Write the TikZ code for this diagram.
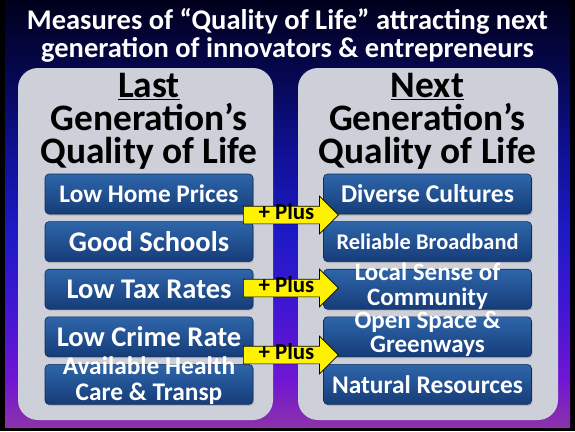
\documentclass[tikz,border=0pt]{standalone}
\usepackage{fontspec}
\setmainfont{Carlito}
\usetikzlibrary{positioning,shapes.arrows,shadows}
\definecolor{panelgray}{RGB}{205,208,216}
\definecolor{boxtop}{RGB}{46,102,170}
\definecolor{boxbot}{RGB}{22,60,120}
\definecolor{bgA}{RGB}{140,50,170}
\definecolor{bgB}{RGB}{112,22,210}
\definecolor{bgC}{RGB}{60,22,210}
\definecolor{bgD}{RGB}{28,26,196}
\definecolor{bgE}{RGB}{16,16,150}
\definecolor{bgF}{RGB}{6,8,82}
\definecolor{bgG}{RGB}{0,0,28}
\pgfdeclareverticalshading{slidebg}{100bp}{color(0bp)=(bgA); color(25bp)=(bgA); color(30.5bp)=(bgB); color(40bp)=(bgC); color(48bp)=(bgD); color(57bp)=(bgE); color(66bp)=(bgF); color(75bp)=(bgG); color(100bp)=(bgG)}
\tikzset{
  panel/.style={fill=panelgray,rounded corners=20pt},
  title/.style={text=white,align=center,inner sep=0pt,font=\fontsize{28.5}{28}\selectfont\bfseries},
  head/.style={align=center,inner sep=0pt,font=\fontsize{37.4}{33}\selectfont\bfseries},
  item/.style={rounded corners=4pt,top color=boxtop,bottom color=boxbot,draw=boxbot!75!black,line width=0.6pt,
    text=white,align=center,minimum width=208pt,minimum height=40pt,inner sep=0pt,
    drop shadow={opacity=0.35,shadow xshift=1pt,shadow yshift=-1.5pt}},
  sz/.style={font=\fontsize{#1}{#1}\selectfont\bfseries},
  two/.style={font=\fontsize{#1}{24}\selectfont\bfseries},
  plus/.style={single arrow,single arrow head extend=10pt,single arrow head indent=0pt,draw=black,line width=0.7pt,
    fill=yellow,font=\fontsize{22.9}{20}\selectfont\bfseries,text height=12.5pt,text depth=3.5pt,inner ysep=0.5pt,inner xsep=0pt,
    minimum height=95pt,anchor=west},
}
\begin{document}
\begin{tikzpicture}[x=1pt,y=-1pt]
  \fill[black] (0,0) rectangle (575,431);
  \shade[shading=slidebg] (5,0) rectangle (570,427);
  \node[title,anchor=north] (ttl) at (287.5,8) {Measures of “Quality of Life” attracting next\\generation of innovators \& entrepreneurs};
  % the two columns
  \fill[panel] (18,68) rectangle (273,420);
  \fill[panel] (298,68) rectangle (558,420);
  \node[head,anchor=north] (lasthd) at (149,73) {\underline{Last}\\Generation’s\\Quality of Life};
  \node[head,anchor=north] (nexthd) at (427.5,73) {\underline{Next}\\Generation’s\\Quality of Life};
  % last generation
  \node[item,sz=25.3] (lhp) at (149,194) {Low Home Prices};
  \node[item,sz=28.5,below=7pt of lhp] (gs) {Good Schools};
  \node[item,sz=28.5,below=7pt of gs] (ltr) {Low Tax Rates};
  \node[item,sz=28.5,below=7pt of ltr] (lcr) {Low Crime Rate};
  \node[item,below=7pt of lcr,font=\fontsize{25.4}{26}\selectfont\bfseries] (ahc) {\raisebox{-9pt}{\smash{\begin{tabular}{@{}c@{}}Available Health\\Care \& Transp\end{tabular}}}};
  % next generation
  \node[item,sz=25.6] (dc) at (427.5,194) {Diverse Cultures};
  \node[item,sz=22.4,below=7pt of dc] (rb) {Reliable Broadband};
  \node[item,below=7pt of rb,two=25] (lsc) {\raisebox{-10pt}{\smash{\begin{tabular}{@{}c@{}}Local Sense of\\Community\end{tabular}}}};
  \node[item,below=7pt of lsc,two=25] (osg) {\raisebox{-10pt}{\smash{\begin{tabular}{@{}c@{}}Open Space \&\\Greenways\end{tabular}}}};
  \node[item,sz=25.4,below=7pt of osg] (nr) {Natural Resources};
  % plus arrows
  \node[plus] (p1) at (243,215) {+ Plus};
  \node[plus] (p2) at (243,288) {+ Plus};
  \node[plus] (p3) at (243,355) {+ Plus};
\end{tikzpicture}
\end{document}
